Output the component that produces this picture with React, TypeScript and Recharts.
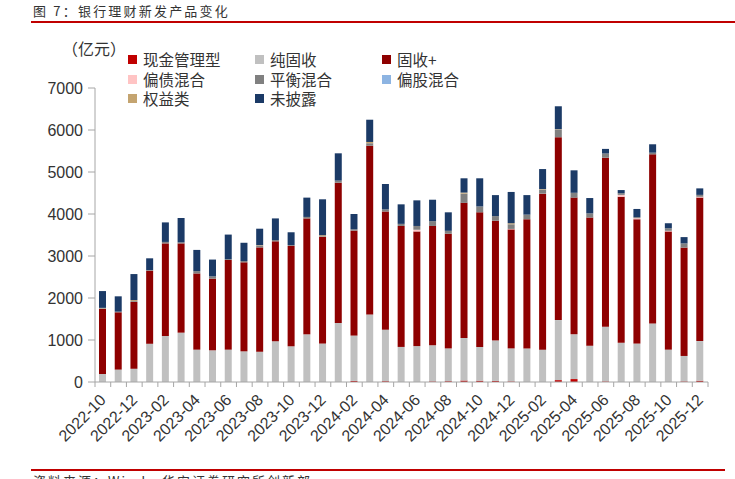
import React from "react";
import { BarChart, Bar, XAxis, YAxis } from "recharts";

const months = [
  "2022-10", "2022-11", "2022-12", "2023-01", "2023-02", "2023-03", "2023-04", "2023-05",
  "2023-06", "2023-07", "2023-08", "2023-09", "2023-10", "2023-11", "2023-12", "2024-01",
  "2024-02", "2024-03", "2024-04", "2024-05", "2024-06", "2024-07", "2024-08", "2024-09",
  "2024-10", "2024-11", "2024-12", "2025-01", "2025-02", "2025-03", "2025-04", "2025-05",
  "2025-06", "2025-07", "2025-08", "2025-09", "2025-10", "2025-11", "2025-12"
];

// 亿元
const cash = [0, 0, 0, 0, 0, 0, 0, 0, 0, 0, 0, 0, 0, 0, 0, 0, 25, 0, 20, 0, 0, 15, 20, 35, 30, 25, 15, 0, 0, 45, 70, 0, 15, 0, 0, 0, 0, 15, 30];
const pureFixed = [190, 295, 315, 910, 1095, 1175, 770, 755, 770, 730, 720, 970, 850, 1135, 915, 1405, 1080, 1610, 1225, 835, 855, 860, 780, 1015, 805, 965, 785, 795, 770, 1430, 1065, 865, 1300, 935, 915, 1395, 770, 605, 945];
const fixedPlus = [1550, 1365, 1590, 1740, 2205, 2125, 1815, 1705, 2135, 2120, 2485, 2380, 2390, 2760, 2540, 3340, 2500, 4015, 2815, 2880, 2730, 2840, 2730, 3215, 3205, 2850, 2835, 3080, 3715, 4355, 3255, 3050, 4025, 3475, 2960, 4025, 2815, 2580, 3415];
const debtMix = [0, 0, 0, 0, 0, 0, 0, 0, 0, 0, 0, 0, 0, 0, 0, 0, 0, 0, 0, 0, 40, 0, 0, 0, 0, 0, 10, 0, 0, 0, 0, 0, 0, 45, 25, 0, 15, 0, 20];
const balanced = [15, 15, 20, 15, 35, 25, 55, 55, 20, 30, 45, 30, 20, 35, 15, 50, 30, 60, 50, 50, 90, 115, 70, 220, 140, 110, 110, 110, 100, 180, 115, 100, 100, 40, 25, 40, 60, 100, 45];
const equityMix = [0, 0, 0, 0, 0, 0, 0, 0, 0, 0, 0, 0, 0, 0, 0, 0, 0, 0, 0, 0, 0, 0, 0, 0, 0, 0, 0, 0, 0, 0, 0, 0, 0, 0, 0, 0, 0, 0, 0];
const equity = [10, 0, 25, 0, 0, 0, 0, 0, 0, 0, 10, 0, 0, 0, 25, 0, 0, 30, 0, 0, 0, 0, 0, 25, 0, 0, 25, 0, 10, 10, 0, 0, 0, 0, 0, 0, 0, 0, 0];
const undisclosed = [400, 365, 620, 280, 465, 580, 505, 400, 585, 435, 390, 515, 305, 460, 855, 650, 365, 530, 605, 465, 610, 510, 440, 340, 670, 500, 745, 465, 475, 545, 535, 365, 110, 75, 195, 200, 120, 150, 155];

const yTicks = [0, 1000, 2000, 3000, 4000, 5000, 6000, 7000];

const series = [
  { key: "cash", name: "现金管理型", color: "#C00000", values: cash },
  { key: "pureFixed", name: "纯固收", color: "#C0C0C0", values: pureFixed },
  { key: "fixedPlus", name: "固收+", color: "#8E0000", values: fixedPlus },
  { key: "debtMix", name: "偏债混合", color: "#FFC4C4", values: debtMix },
  { key: "balanced", name: "平衡混合", color: "#808080", values: balanced },
  { key: "equityMix", name: "偏股混合", color: "#8DB4E2", values: equityMix },
  { key: "equity", name: "权益类", color: "#C4A470", values: equity },
  { key: "undisclosed", name: "未披露", color: "#1B3A66", values: undisclosed }
];

const data = months.map((m, i) => {
  const row: Record<string, string | number> = { month: m };
  series.forEach((s) => (row[s.key] = s.values[i]));
  return row;
});

const W = 735;
const H = 479;
const PLOT_LEFT = 95;
const PLOT_RIGHT = 708;
const BAND = (PLOT_RIGHT - PLOT_LEFT) / months.length;
const AXIS_COLOR = "#A6A6A6";
const TEXT_COLOR = "#333333";
const SANS = '"Liberation Sans", Arial, sans-serif';
const CJK = '"Noto Sans CJK SC", "Liberation Sans", sans-serif';

const MonthTick = (props: any) => {
  const { x, y, payload, index } = props;
  const lx = x + 4;
  const ly = y + 19;
  return (
    <g>
      <line x1={x - BAND / 2} y1={y} x2={x - BAND / 2} y2={y + 5} stroke={AXIS_COLOR} />
      {index === months.length - 1 && (
        <line x1={x + BAND / 2} y1={y} x2={x + BAND / 2} y2={y + 5} stroke={AXIS_COLOR} />
      )}
      {index % 2 === 0 && (
        <text
          x={lx}
          y={ly}
          transform={`rotate(-45, ${lx}, ${ly})`}
          textAnchor="end"
          fontSize={16}
          fontFamily={SANS}
          fill={TEXT_COLOR}
        >
          {payload.value}
        </text>
      )}
    </g>
  );
};

export default function App() {
  return (
    <div style={{ position: "absolute", left: 0, top: 0, width: W, height: H, overflow: "hidden", background: "#fff" }}>
      <div style={{ position: "absolute", left: 0, top: 0 }}>
        <BarChart width={W} height={H} data={data} margin={{ top: 88, right: W - PLOT_RIGHT, bottom: 17, left: 45 }}>
          <XAxis
            dataKey="month"
            interval={0}
            height={80}
            tickSize={0}
            tickMargin={0}
            tickLine={false}
            axisLine={{ stroke: AXIS_COLOR }}
            tick={<MonthTick />}
          />
          <YAxis
            width={50}
            domain={[0, 7000]}
            ticks={yTicks}
            interval={0}
            tickSize={7}
            tickMargin={5}
            axisLine={{ stroke: AXIS_COLOR }}
            tickLine={{ stroke: AXIS_COLOR }}
            tick={{ fontSize: 16, fontFamily: SANS, fill: TEXT_COLOR }}
          />
          {series.map((s) => (
            <Bar key={s.key} dataKey={s.key} name={s.name} stackId="all" fill={s.color} barSize={7} isAnimationActive={false} />
          ))}
        </BarChart>
      </div>

      <div style={{ position: "absolute", left: 33, top: 2, fontFamily: CJK, fontSize: 13, lineHeight: "17px", letterSpacing: 2.2, color: TEXT_COLOR, whiteSpace: "nowrap" }}>
        图 7：银行理财新发产品变化
      </div>
      <div style={{ position: "absolute", left: 31, top: 21, width: W - 31, height: 2, background: "#C00000" }} />

      <div style={{ position: "absolute", left: 62, top: 39, fontFamily: CJK, fontSize: 16, lineHeight: "19px", color: TEXT_COLOR, whiteSpace: "nowrap" }}>
        （亿元）
      </div>

      <div style={{ position: "absolute", left: 128, top: 50, width: 390, display: "grid", gridTemplateColumns: "127px 127px 136px", gridAutoRows: "19.5px" }}>
        {series.map((s) => (
          <div key={s.key} style={{ display: "flex", alignItems: "center", height: 19.5, lineHeight: "17px", fontFamily: CJK, fontSize: 15.5, color: TEXT_COLOR, whiteSpace: "nowrap" }}>
            <span style={{ display: "inline-block", width: 9, height: 9, background: s.color, marginRight: 6 }} />
            {s.name}
          </div>
        ))}
      </div>

      <div style={{ position: "absolute", left: 31, top: 469, width: 694, height: 2, background: "#C00000" }} />
      <div style={{ position: "absolute", left: 33, top: 473, fontFamily: CJK, fontSize: 13, lineHeight: "15px", letterSpacing: 2, color: TEXT_COLOR, whiteSpace: "nowrap" }}>
        资料来源：Wind，华安证券研究所创新部
      </div>
    </div>
  );
}
